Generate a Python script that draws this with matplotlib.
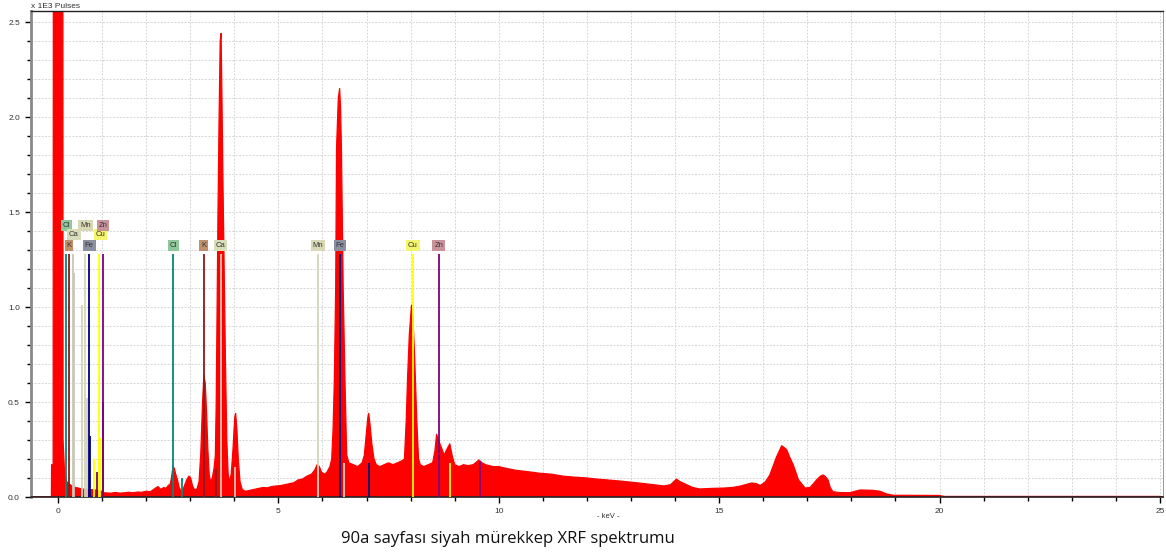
import matplotlib
matplotlib.use("Agg")
import matplotlib.pyplot as plt
from matplotlib.ticker import MultipleLocator, FormatStrFormatter

plt.rcParams['font.family'] = ['Liberation Sans', 'DejaVu Sans']

# spectrum: energy (keV) and counts (x 1E3 pulses)
kev = [-0.62, -0.16, -0.15, -0.145, -0.11, -0.105, 0.11, 0.115, 0.15, 0.2, 0.3,
       0.4, 0.5, 0.6, 0.7, 0.8, 0.9, 1.0, 1.05, 1.2, 1.3, 1.4, 1.5, 1.6, 1.7,
       1.8, 1.9, 2.0, 2.1, 2.2, 2.27, 2.33, 2.4, 2.45, 2.5, 2.55, 2.58, 2.61,
       2.64, 2.67, 2.71, 2.75, 2.79, 2.83, 2.87, 2.92, 2.97, 3.01, 3.05, 3.09,
       3.15, 3.2, 3.24, 3.28, 3.31, 3.34, 3.37, 3.4, 3.43, 3.46, 3.5, 3.54,
       3.57, 3.59, 3.61, 3.63, 3.655, 3.68, 3.7, 3.72, 3.74, 3.77, 3.8, 3.83,
       3.86, 3.89, 3.93, 3.97, 4.01, 4.03, 4.06, 4.09, 4.13, 4.18, 4.25, 4.35,
       4.45, 4.55, 4.65, 4.75, 4.85, 4.95, 5.05, 5.15, 5.25, 5.35, 5.45, 5.55,
       5.65, 5.75, 5.82, 5.88, 5.93, 5.98, 6.05, 6.1, 6.17, 6.21, 6.24, 6.27,
       6.3, 6.32, 6.36, 6.39, 6.41, 6.43, 6.47, 6.51, 6.55, 6.6, 6.7, 6.8, 6.9,
       6.95, 6.99, 7.03, 7.05, 7.08, 7.12, 7.17, 7.22, 7.3, 7.4, 7.5, 7.6, 7.7,
       7.8, 7.86, 7.9, 7.93, 7.97, 8.02, 8.05, 8.09, 8.14, 8.18, 8.22, 8.3, 8.4,
       8.5, 8.55, 8.59, 8.63, 8.7, 8.76, 8.82, 8.89, 8.94, 9.0, 9.1, 9.2, 9.3,
       9.42, 9.5, 9.55, 9.62, 9.7, 9.87, 10.0, 10.18, 10.4, 10.6, 10.93, 11.2,
       11.45, 11.69, 12.0, 12.2, 12.45, 12.7, 13.0, 13.2, 13.5, 13.75, 13.9,
       14.03, 14.12, 14.26, 14.4, 14.56, 14.8, 15.1, 15.3, 15.47, 15.6, 15.74,
       15.85, 15.93, 16.05, 16.15, 16.3, 16.42, 16.53, 16.6, 16.68, 16.8, 16.95,
       17.06, 17.14, 17.21, 17.3, 17.36, 17.42, 17.47, 17.52, 17.58, 17.74,
       17.97, 18.2, 18.49, 18.65, 18.8, 18.95, 20.0, 20.1, 25.0, 25.07]
counts = [0.0, 0.0, 0.0, 0.17, 0.17, 3.0, 3.0, 0.3, 0.12, 0.08, 0.06,
          0.05, 0.045, 0.04, 0.04, 0.038, 0.035, 0.03, 0.022, 0.02, 0.024, 0.02, 0.022, 0.025, 0.022,
          0.026, 0.025, 0.03, 0.028, 0.045, 0.055, 0.04, 0.05, 0.045, 0.06, 0.07, 0.11, 0.16,
          0.15, 0.12, 0.09, 0.05, 0.03, 0.035, 0.06, 0.09, 0.11, 0.10, 0.06, 0.04,
          0.04, 0.08, 0.23, 0.5, 0.64, 0.6, 0.45, 0.25, 0.12, 0.08, 0.10, 0.15,
          0.22, 0.5, 1.0, 1.5, 2.0, 2.4, 2.44, 2.1, 1.7, 1.2, 0.7, 0.3,
          0.12, 0.08, 0.12, 0.25, 0.42, 0.44, 0.35, 0.2, 0.08, 0.04, 0.03, 0.035,
          0.04, 0.045, 0.05, 0.048, 0.055, 0.058, 0.06, 0.065, 0.07, 0.075, 0.09, 0.095,
          0.11, 0.12, 0.14, 0.17, 0.16, 0.13, 0.12, 0.13, 0.16, 0.2, 0.35, 0.62,
          1.1, 1.84, 2.1, 2.15, 2.05, 1.84, 1.1, 0.62, 0.22, 0.18, 0.17, 0.16, 0.18,
          0.22, 0.32, 0.42, 0.44, 0.38, 0.28, 0.2, 0.17, 0.16, 0.17, 0.18, 0.17, 0.18,
          0.19, 0.2, 0.4, 0.62, 0.85, 1.01, 0.95, 0.75, 0.4, 0.2, 0.17, 0.16, 0.17,
          0.18, 0.24, 0.33, 0.3, 0.26, 0.22, 0.25, 0.28, 0.22, 0.17, 0.16, 0.17, 0.165,
          0.17, 0.185, 0.195, 0.18, 0.17, 0.16, 0.16, 0.15, 0.14, 0.135, 0.125, 0.12,
          0.11, 0.105, 0.1, 0.095, 0.09, 0.085, 0.078, 0.073, 0.065, 0.058, 0.065,
          0.094, 0.08, 0.065, 0.05, 0.042, 0.045, 0.047, 0.05, 0.057, 0.065, 0.074,
          0.07, 0.06, 0.08, 0.116, 0.21, 0.27, 0.25, 0.21, 0.17, 0.09, 0.047,
          0.05, 0.07, 0.09, 0.11, 0.116, 0.105, 0.09, 0.05, 0.028, 0.023,
          0.023, 0.037, 0.035, 0.03, 0.016, 0.009, 0.008, 0.003, 0.003, 0.0]

# element markers
elements = ['Cl', 'K', 'Ca', 'Mn', 'Fe', 'Cu', 'Zn']
box_colors = ['#8ec89a', '#c0906a', '#d8dcb8', '#d8d8b4', '#8a909e', '#f4f46e', '#c8929a']
line_colors = ['#008878', '#8b1a1a', '#c8c8b4', '#d4d4bc', '#000080', '#ffff00', '#800080']
ka_kev = [2.62, 3.31, 3.69, 5.90, 6.40, 8.05, 8.64]
kb_kev = [2.82, 3.59, 4.01, 6.49, 7.06, 8.90, 9.57]
kb_height = [0.10, 0.15, 0.16, 0.18, 0.18, 0.18, 0.19]
l_kev = [0.19, 0.26, 0.33, 0.62, 0.71, 0.94, 1.01]
l_row = [3, 1, 2, 3, 1, 2, 3]
l_box_kev = [0.19, 0.25, 0.36, 0.62, 0.71, 0.96, 1.02]
# shorter L lines (energy, height, element index)
l2_kev = [0.37, 0.55, 0.65, 0.73, 0.82, 0.96, 1.03, 0.88]
l2_height = [1.18, 1.01, 0.52, 0.32, 0.20, 0.31, 0.50, 0.13]
l2_elem = [2, 3, 3, 4, 5, 5, 6, 6]

line_top = 1.28
row_y = {1: 1.325, 2: 1.38, 3: 1.43}

fig = plt.figure(figsize=(11.66, 5.54), dpi=100)
ax = fig.add_axes([31 / 1166, 1 - 497 / 554, 1132 / 1166, 486 / 554])

ax.fill_between(kev, counts, 0, facecolor='#ff0000', edgecolor='#ff0000',
                linewidth=0.9, zorder=2)

for i, el in enumerate(elements):
    ax.vlines(ka_kev[i], 0, line_top, color=line_colors[i], lw=1.3, zorder=3)
    ax.vlines(kb_kev[i], 0, kb_height[i], color=line_colors[i], lw=1.3, zorder=3)
    ax.vlines(l_kev[i], 0, line_top, color=line_colors[i], lw=1.3, zorder=3)
    box = dict(boxstyle='square,pad=0.25', fc=box_colors[i], ec='none')
    ax.text(ka_kev[i], row_y[1], el, fontsize=5.5, ha='center', va='center',
            color='#333333', bbox=box, zorder=4)
    ax.text(l_box_kev[i], row_y[l_row[i]], el, fontsize=5.5, ha='center', va='center',
            color='#333333', bbox=box, zorder=4)
for e, h, j in zip(l2_kev, l2_height, l2_elem):
    ax.vlines(e, 0, h, color=line_colors[j], lw=1.3, zorder=3)

ax.set_xlim(-0.6125, 25.07)
ax.set_ylim(0, 2.558)
ax.xaxis.set_major_locator(MultipleLocator(5))
ax.xaxis.set_minor_locator(MultipleLocator(1))
ax.yaxis.set_major_locator(MultipleLocator(0.5))
ax.yaxis.set_minor_locator(MultipleLocator(0.1))
ax.yaxis.set_major_formatter(FormatStrFormatter('%.1f'))
ax.tick_params(which='major', direction='out', length=4, width=1, labelsize=6,
               labelcolor='#333333', pad=4)
ax.tick_params(which='minor', direction='out', length=3, width=1)
ax.set_axisbelow(True)
ax.grid(which='both', color='#d6d6d6', linestyle=(0, (2, 1.5)), lw=0.7)

ax.spines['left'].set_color('#888888')
ax.spines['left'].set_linewidth(2)
ax.spines['bottom'].set_color('#222222')
ax.spines['bottom'].set_linewidth(1.2)
ax.spines['top'].set_color('#222222')
ax.spines['top'].set_linewidth(1)
ax.spines['right'].set_color('#888888')
ax.spines['right'].set_linewidth(0.6)

fig.text(31 / 1166, 1 - 6 / 554, 'x 1E3 Pulses', fontsize=6, va='center', color='#333333')
fig.text(608 / 1166, 1 - 517 / 554, '- keV -', fontsize=5.5, ha='center', va='center',
         color='#333333')
fig.text(508 / 1166, 1 - 539 / 554, '90a sayfası siyah mürekkep XRF spektrumu',
         fontsize=12, ha='center', va='center', family='Open Sans', color='#111111')

fig.savefig('out.png', dpi=100)
